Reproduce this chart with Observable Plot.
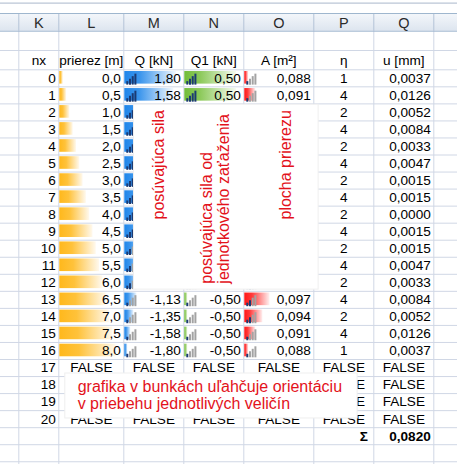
<!DOCTYPE html>
<html><head><meta charset="utf-8">
<script src="https://cdn.jsdelivr.net/npm/d3@7"></script>
<script src="https://cdn.jsdelivr.net/npm/@observablehq/plot@0.6"></script>
<style>body{margin:0;background:#fff;}</style>
</head><body><div id="chart"></div>
<script>
// ---------- data (read from the sheet) ----------
const colLetters = ["K","L","M","N","O","P","Q"];
const headers = ["nx","prierez [m]","Q [kN]","Q1 [kN]","A [m²]","η","u [mm]"];
const nx = [0,1,2,3,4,5,6,7,8,9,10,11,12,13,14,15,16,17,18,19,20];
const prierez = [0.0,0.5,1.0,1.5,2.0,2.5,3.0,3.5,4.0,4.5,5.0,5.5,6.0,6.5,7.0,7.5,8.0];
// rows 2–12 of Q, Q1, A are hidden under the note box: estimated
const Q  = [1.80,1.58,1.35,1.13,0.90,0.68,0.45,0.23,0.00,-0.23,-0.45,-0.68,-0.90,-1.13,-1.35,-1.58,-1.80];
const Q1 = [0.50,0.50,0.50,0.50,0.50,0.50,0.50,0.50,0.50,-0.50,-0.50,-0.50,-0.50,-0.50,-0.50,-0.50,-0.50];
const A  = [0.088,0.091,0.094,0.097,0.100,0.103,0.106,0.109,0.112,0.109,0.106,0.103,0.100,0.097,0.094,0.091,0.088];
const eta = [1,4,2,4,2,4,2,4,2,4,2,4,2,4,2,4,1];
const u = [0.0037,0.0126,0.0052,0.0084,0.0033,0.0047,0.0015,0.0015,0.0000,0.0015,0.0015,0.0047,0.0033,0.0084,0.0052,0.0126,0.0037];
const uSum = 0.0820;
const iconQ  = [4,4,4,4,4,4,4,3,3,3,2,2,2,1,1,1,1];
const iconQ1 = [4,4,4,4,4,4,4,4,4,1,1,1,1,1,1,1,1];
const iconA  = [1,1,2,2,3,3,4,4,4,4,4,3,3,2,2,1,1];
const falseRows = [17,18,19,20];
const noteVertical = ["posúvajúca sila","posúvajúca sila od","jednotkového zaťaženia","plocha prierezu"];
const noteBottom = ["grafika v bunkách uľahčuje orientáciu","v priebehu jednotlivých veličín"];

// ---------- layout ----------
const colEdges = [0,18.3,58.3,123.3,183.3,243.3,313.3,373.3,433.3,497.3];
const rowDomain = [0,1,2,3,4,28];
const rowEdges = [0,13,30.7,50,69.3,478.3];
const R0 = 4; // sheet row index of data row 0
const red = "#e3121b";
const FS = 13.6;

const loc = d3.formatLocale({decimal:",", thousands:"\u00a0", grouping:[3], currency:["",""], minus:"-"});
const f1 = loc.format(".1f"), f2 = loc.format(".2f"), f3 = loc.format(".3f"), f4 = loc.format(".4f");

// text cells
const right = [], center = [];
nx.forEach((v,k) => right.push({c:1, r:R0+k, t:String(v)}));
prierez.forEach((v,k) => {
  right.push({c:2, r:R0+k, t:f1(v)});
  right.push({c:3, r:R0+k, t:f2(Q[k])});
  right.push({c:4, r:R0+k, t:f2(Q1[k])});
  right.push({c:5, r:R0+k, t:f3(A[k])});
  center.push({c:6, r:R0+k, t:String(eta[k])});
  right.push({c:7, r:R0+k, t:f4(u[k])});
});
falseRows.forEach(k => { for (let c = 2; c <= 7; c++) center.push({c, r:R0+k, t:"FALSE"}); });
const headerCells = headers.map((t,i) => ({c:i+1, t}));
const letterCells = colLetters.map((t,i) => ({c:i+1, t}));

// data bars
const barSpec = [
  {c:2, vals:prierez, g:"url(#gL)"},
  {c:3, vals:Q, g:"url(#gM)"},
  {c:4, vals:Q1, g:"url(#gN)"},
  {c:5, vals:A, g:"url(#gO)"}
];
const bars = barSpec.flatMap(s => {
  const sc = d3.scaleLinear(d3.extent(s.vals), [0.07, 0.88]);
  return s.vals.map((v,k) => ({c:s.c, r:R0+k, f:sc(v), g:s.g}));
});

// icon sets
const icons = [
  ...iconQ.map((l,k) => ({c:3, r:R0+k, l})),
  ...iconQ1.map((l,k) => ({c:4, r:R0+k, l})),
  ...iconA.map((l,k) => ({c:5, r:R0+k, l}))
];
const iconH = [3.5, 6, 8.5, 11].map(h => h / 17.04);
const iconDx = [3.5, 6.2, 8.9, 11.6];
const iconMarks = iconH.map((h,j) => Plot.ruleX(icons, {
  x: "c", y1: d => d.r + 0.9 - h, y2: d => d.r + 0.9, dx: iconDx[j],
  strokeWidth: 2, stroke: d => d.l > j ? "#1b3a72" : "#a3a3a3"
}));

// notes
const boxes = [
  {x1:3.17, x2:6.08, y1:6.05, y2:16.9},
  {x1:2.10, x2:6.73, y1:21.82, y2:24.46}
];
const vText = [
  {x:3.59, y:12.785, t:noteVertical[0]},
  {x:4.38, y:16.55, t:noteVertical[1]},
  {x:4.66, y:16.55, t:noteVertical[2]},
  {x:5.60, y:12.785, t:noteVertical[3]}
];
const bText = [
  {x:2.29, y:22.61, t:noteBottom[0]},
  {x:2.29, y:23.58, t:noteBottom[1]}
];

const chart = Plot.plot({
  width: 457, height: 464, margin: 0,
  x: {type:"linear", domain: d3.range(10), range: colEdges, axis: null},
  y: {type:"linear", domain: rowDomain, range: rowEdges, axis: null},
  color: {type: "identity"},
  style: {fontFamily: "'Liberation Sans', Arial, sans-serif", fontSize: FS + "px", background: "#fff", color: "#000"},
  marks: [
    // column header band
    Plot.rect([0], {x1: 0, x2: 9, y1: 1, y2: 2, fill: () => "url(#gH)"}),
    Plot.ruleY([0.2], {x1: 0, x2: 9, stroke: "#a9b8cc"}),
    // grid
    Plot.ruleY(d3.range(3, 29), {x1: 0, x2: 9, stroke: "#d0d7e5"}),
    Plot.ruleX(d3.range(1, 9), {y1: 2, y2: 28, stroke: "#d0d7e5"}),
    Plot.ruleX(d3.range(1, 9), {y1: 1, y2: 2, stroke: "#b4c4d8"}),
    Plot.ruleY([1, 2], {x1: 0, x2: 9, stroke: "#9eb6ce"}),
    // data bars
    Plot.rect(bars, {x1: "c", x2: d => d.c + d.f, y1: d => d.r + 0.1, y2: d => d.r + 0.84, fill: "g", insetLeft: 1}),
    // icons
    ...iconMarks,
    // texts
    Plot.text(letterCells, {x: d => d.c + 0.5, y: 1.54, text: "t", fontSize: 14.5, fill: "#2b2b2b"}),
    Plot.text(headerCells, {x: d => d.c + 0.5, y: 3.55, text: "t", fontSize: FS}),
    Plot.text(right, {x: d => d.c + 1, y: d => d.r + 0.5, text: "t", textAnchor: "end", dx: -3, fontSize: FS}),
    Plot.text(center, {x: d => d.c + 0.5, y: d => d.r + 0.5, text: "t", fontSize: FS}),
    Plot.text([{c:6, t:"Σ"}], {x: d => d.c + 1, y: R0 + 21 + 0.5, text: "t", textAnchor: "end", dx: -6, fontWeight: "bold", fontSize: FS}),
    Plot.text([{c:7, t:f4(uSum)}], {x: d => d.c + 1, y: R0 + 21 + 0.5, text: "t", textAnchor: "end", dx: -3, fontWeight: "bold", fontSize: FS}),
    // note boxes
    Plot.rect(boxes, {x1: "x1", x2: "x2", y1: "y1", y2: "y2", fill: "#fff", stroke: "#efefef"}),
    Plot.text(vText, {x: "x", y: "y", text: "t", rotate: -90, textAnchor: "start", fill: red, fontSize: 16}),
    Plot.text(bText, {x: "x", y: "y", text: "t", textAnchor: "start", fill: red, fontSize: 16})
  ]
});

d3.select(chart).insert("defs", ":first-child").html(`
  <linearGradient id="gH" x1="0" y1="0" x2="0" y2="1"><stop offset="0" stop-color="#f4f7fb"/><stop offset="1" stop-color="#dde5ef"/></linearGradient>
  <linearGradient id="gL" x1="0" y1="0" x2="1" y2="0"><stop offset="0" stop-color="#ffb81c"/><stop offset="0.35" stop-color="#ffc23a"/><stop offset="1" stop-color="#fff9ee"/></linearGradient>
  <linearGradient id="gM" x1="0" y1="0" x2="1" y2="0"><stop offset="0" stop-color="#1f86ea"/><stop offset="0.3" stop-color="#3b95ec"/><stop offset="1" stop-color="#f2f8fe"/></linearGradient>
  <linearGradient id="gN" x1="0" y1="0" x2="1" y2="0"><stop offset="0" stop-color="#72bd3a"/><stop offset="0.3" stop-color="#8cc95a"/><stop offset="1" stop-color="#f6fbf1"/></linearGradient>
  <linearGradient id="gO" x1="0" y1="0" x2="1" y2="0"><stop offset="0" stop-color="#ff1818"/><stop offset="0.3" stop-color="#ff3a3a"/><stop offset="1" stop-color="#fff0f0"/></linearGradient>
`);
document.getElementById("chart").append(chart);
</script>
</body></html>
